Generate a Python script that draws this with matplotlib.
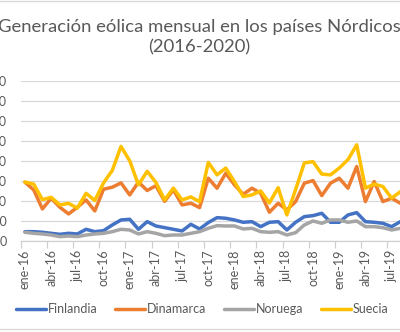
import matplotlib
matplotlib.use('Agg')
import matplotlib.pyplot as plt
from matplotlib.lines import Line2D
from matplotlib.ticker import MultipleLocator

plt.rcParams['font.family'] = ['Lato', 'DejaVu Sans']

# --- datos (GWh mensuales) ---
meses = ['ene', 'feb', 'mar', 'abr', 'may', 'jun', 'jul', 'ago', 'sep', 'oct', 'nov', 'dic']
anios = ['16', '17', '18', '19', '20']
categorias = [f'{m}-{a}' for a in anios for m in meses]

finlandia = [233, 233, 217, 192, 167, 192, 175, 292, 233, 258, 400, 525,
             542, 292, 483, 375, 333, 292, 250, 417, 300, 460, 583, 567,
             525, 467, 483, 358, 467, 483, 275, 467, 608, 633, 692, 467,
             467, 650, 708, 483, 467, 442, 358, 483]
dinamarca = [1467, 1275, 800, 1067, 842, 675, 842, 1025, 750, 1292, 1342, 1450,
             1150, 1470, 1260, 1380, 990, 1275, 900, 942, 833, 1567, 1317, 1692,
             1400, 1167, 1317, 1192, 717, 942, 775, 983, 1442, 1508, 1133, 1442,
             1567, 1317, 1858, 983, 1483, 983, 1067, 942]
noruega = [217, 192, 175, 150, 108, 125, 108, 150, 175, 192, 233, 292,
           275, 175, 233, 192, 133, 150, 150, 192, 233, 317, 383, 375,
           375, 300, 317, 233, 217, 233, 150, 208, 400, 500, 442, 525,
           525, 467, 500, 358, 358, 333, 275, 317]
suecia = [1470, 1420, 1030, 1090, 900, 940, 820, 1190, 1010, 1450, 1760, 2360,
          2000, 1400, 1740, 1460, 1025, 1320, 1025, 1100, 980, 1960, 1650, 1820,
          1480, 1110, 1150, 1250, 950, 1330, 650, 1280, 1950, 1980, 1670, 1650,
          1820, 2030, 2400, 1320, 1420, 1360, 1070, 1230]

series = [('Finlandia', finlandia, '#4472C4'),
          ('Dinamarca', dinamarca, '#ED7D31'),
          ('Noruega', noruega, '#A5A5A5'),
          ('Suecia', suecia, '#FFC000')]

W, H = 400, 332
fig = plt.figure(figsize=(W / 100, H / 100), dpi=100, facecolor='white')

# el área de trazado sigue más allá del borde derecho (imagen recortada)
x0, x1 = 20.6, 20.6 + 8.73 * 60
y0, y1 = 241, 80.7
ax = fig.add_axes([x0 / W, 1 - y0 / H, (x1 - x0) / W, (y0 - y1) / H])

for nombre, valores, color in series:
    ax.plot(range(len(valores)), valores, color=color, lw=2.5, label=nombre,
            solid_joinstyle='round', solid_capstyle='round')

ax.set_xlim(-0.5, 59.5)
ax.set_ylim(0, 4000)
ax.yaxis.set_major_locator(MultipleLocator(500))
ax.grid(axis='y', color='#D9D9D9', lw=0.9)
ax.set_axisbelow(True)
for s in ['top', 'right', 'left']:
    ax.spines[s].set_visible(False)
ax.spines['bottom'].set_color('#D0D0D0')
ax.spines['bottom'].set_linewidth(0.9)

# solo las etiquetas que caben en la imagen (hasta jul-19)
ax.set_xticks(range(0, 43, 3))
ax.set_xticklabels(categorias[0:43:3], rotation=90, va='top', ha='center')
ax.set_xticks([k - 0.5 for k in range(0, 61, 3)], minor=True)
ax.tick_params(axis='x', which='major', length=0, pad=6, labelsize=9, labelcolor='#595959')
ax.tick_params(axis='x', which='minor', length=5, width=0.9, color='#D0D0D0')
ax.tick_params(axis='y', length=0, pad=10, labelsize=9, labelcolor='#595959')

fig.text(199 / W, 1 - 37.5 / H, 'Generación eólica mensual en los países Nórdicos\n(2016-2020)',
         ha='center', va='center', fontsize=13.3, color='#595959', linespacing=1.3)

fig.legend(loc='center', bbox_to_anchor=(202 / W, 1 - 309 / H), ncol=4, frameon=False,
           fontsize=9, labelcolor='#595959', handlelength=2.4, handletextpad=0.15,
           columnspacing=1.4)

# borde del gráfico (visible arriba y abajo)
fig.add_artist(Line2D([0, 1], [1 - 1 / H, 1 - 1 / H], color='#D9D9D9', lw=1))
fig.add_artist(Line2D([0, 1], [1 - 329 / H, 1 - 329 / H], color='#D9D9D9', lw=1))

fig.savefig('out.png', dpi=100)
